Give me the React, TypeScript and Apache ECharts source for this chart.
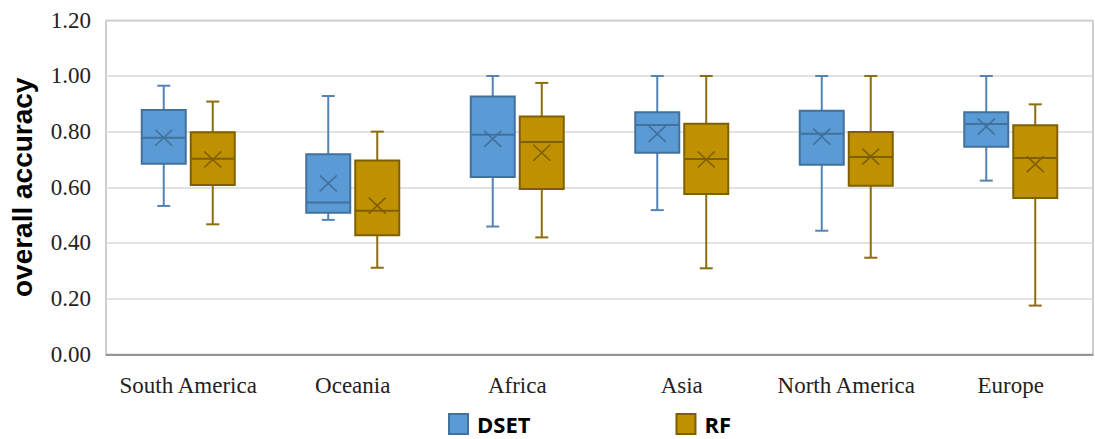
import React, { useEffect, useRef } from "react";
import * as echarts from "echarts";

const categories = ["South America", "Oceania", "Africa", "Asia", "North America", "Europe"];
const yTicks = [0, 0.2, 0.4, 0.6, 0.8, 1.0, 1.2];

// [low whisker, Q1, median, Q3, high whisker, mean]
const dsetStats = [
  [0.533, 0.685, 0.778, 0.878, 0.965, 0.778],
  [0.483, 0.509, 0.545, 0.719, 0.928, 0.614],
  [0.459, 0.637, 0.789, 0.926, 1.0, 0.774],
  [0.518, 0.724, 0.824, 0.87, 1.0, 0.792],
  [0.444, 0.681, 0.792, 0.875, 1.0, 0.782],
  [0.624, 0.746, 0.827, 0.87, 1.0, 0.818],
];
const rfStats = [
  [0.467, 0.608, 0.703, 0.798, 0.908, 0.7],
  [0.311, 0.428, 0.516, 0.696, 0.8, 0.534],
  [0.42, 0.594, 0.763, 0.854, 0.975, 0.724],
  [0.309, 0.576, 0.702, 0.828, 1.0, 0.7],
  [0.347, 0.606, 0.709, 0.799, 1.0, 0.71],
  [0.175, 0.562, 0.705, 0.823, 0.898, 0.683],
];

function makeRender(offset: number, fill: string, stroke: string, whisker: string, cross: string) {
  return (params: any, api: any) => {
    const x = api.value(0);
    const c = (v: number) => api.coord([x, v]);
    const cx = c(api.value(1))[0] + offset;
    const yLow = c(api.value(1))[1];
    const yQ1 = c(api.value(2))[1];
    const yMed = c(api.value(3))[1];
    const yQ3 = c(api.value(4))[1];
    const yHigh = c(api.value(5))[1];
    const yMean = c(api.value(6))[1];
    const half = 22;
    const cap = 6.5;
    const xs = 8.5;
    const ys = 8;
    const ln = (x1: number, y1: number, x2: number, y2: number, col: string, w: number) => ({
      type: "line",
      shape: { x1, y1, x2, y2 },
      style: { stroke: col, lineWidth: w },
    });
    return {
      type: "group",
      children: [
        ln(cx, yHigh, cx, yQ3, whisker, 2),
        ln(cx, yQ1, cx, yLow, whisker, 2),
        ln(cx - cap, yHigh, cx + cap, yHigh, whisker, 2),
        ln(cx - cap, yLow, cx + cap, yLow, whisker, 2),
        {
          type: "rect",
          shape: { x: cx - half, y: yQ3, width: half * 2, height: yQ1 - yQ3 },
          style: { fill, stroke, lineWidth: 2 },
        },
        ln(cx - half, yMed, cx + half, yMed, stroke, 2),
        ln(cx - xs, yMean - ys, cx + xs, yMean + ys, cross, 1.6),
        ln(cx - xs, yMean + ys, cx + xs, yMean - ys, cross, 1.6),
      ],
    };
  };
}

export default function App() {
  const ref = useRef<HTMLDivElement>(null);
  useEffect(() => {
    if (!ref.current) return;
    const chart = echarts.init(ref.current, null, { renderer: "svg" });
    const dsetData = dsetStats.map((s, i) => [i, ...s]);
    const rfData = rfStats.map((s, i) => [i, ...s]);
    chart.setOption({
      animation: false,
      backgroundColor: "#ffffff",
      grid: {
        left: 106,
        right: 2,
        top: 20.3,
        bottom: 84.7,
        show: true,
        borderColor: "#9a9a9a",
        borderWidth: 1,
        outerBoundsMode: "none",
        containLabel: false,
      },
      legend: {
        left: 448,
        top: 413,
        padding: 0,
        itemWidth: 19,
        itemHeight: 20,
        itemGap: 145,
        data: [
          { name: "DSET", icon: "rect" },
          { name: "RF", icon: "rect" },
        ],
        textStyle: {
          fontFamily: "Open Sans",
          fontWeight: "bold",
          fontSize: 22,
          lineHeight: 22,
          color: "#000",
          padding: [0, 0, 0, 4],
        },
      },
      xAxis: {
        type: "category",
        data: categories,
        boundaryGap: true,
        axisTick: { show: false },
        axisLine: { lineStyle: { color: "#7f7f7f", width: 1.5 } },
        axisLabel: {
          interval: 0,
          fontFamily: "Liberation Serif",
          fontSize: 23,
          color: "#222",
          margin: 20,
        },
        splitLine: { show: false },
      },
      yAxis: {
        type: "value",
        min: 0,
        max: 1.2,
        interval: 0.2,
        name: "overall accuracy",
        nameLocation: "middle",
        nameRotate: 90,
        nameGap: 70,
        nameTextStyle: { fontFamily: "Liberation Sans", fontWeight: "bold", fontSize: 28, color: "#000" },
        axisLine: { show: false },
        axisTick: { show: false },
        axisLabel: {
          fontFamily: "Liberation Serif",
          fontSize: 23,
          color: "#222",
          margin: 15,
          formatter: (v: number) => {
            const t = yTicks.find((k) => Math.abs(k - v) < 1e-6);
            return (t !== undefined ? t : v).toFixed(2);
          },
        },
        splitLine: { lineStyle: { color: "#d9d9d9", width: 1.5 } },
      },
      series: [
        {
          name: "DSET",
          type: "custom",
          renderItem: makeRender(-24.5, "#5b9bd5", "#41719c", "#5583b5", "#41719c"),
          itemStyle: { color: "#5b9bd5", borderColor: "#41719c", borderWidth: 1 },
          encode: { x: 0, y: [1, 2, 3, 4, 5, 6] },
          data: dsetData,
        },
        {
          name: "RF",
          type: "custom",
          renderItem: makeRender(24.5, "#bf9000", "#7f6000", "#8c6d10", "#7f6000"),
          itemStyle: { color: "#bf9000", borderColor: "#7f6000", borderWidth: 1 },
          encode: { x: 0, y: [1, 2, 3, 4, 5, 6] },
          data: rfData,
        },
      ],
    });
    return () => chart.dispose();
  }, []);
  return (
    <div
      ref={ref}
      style={{ position: "fixed", left: 0, top: 0, width: 1095, height: 439, background: "#fff" }}
    />
  );
}
